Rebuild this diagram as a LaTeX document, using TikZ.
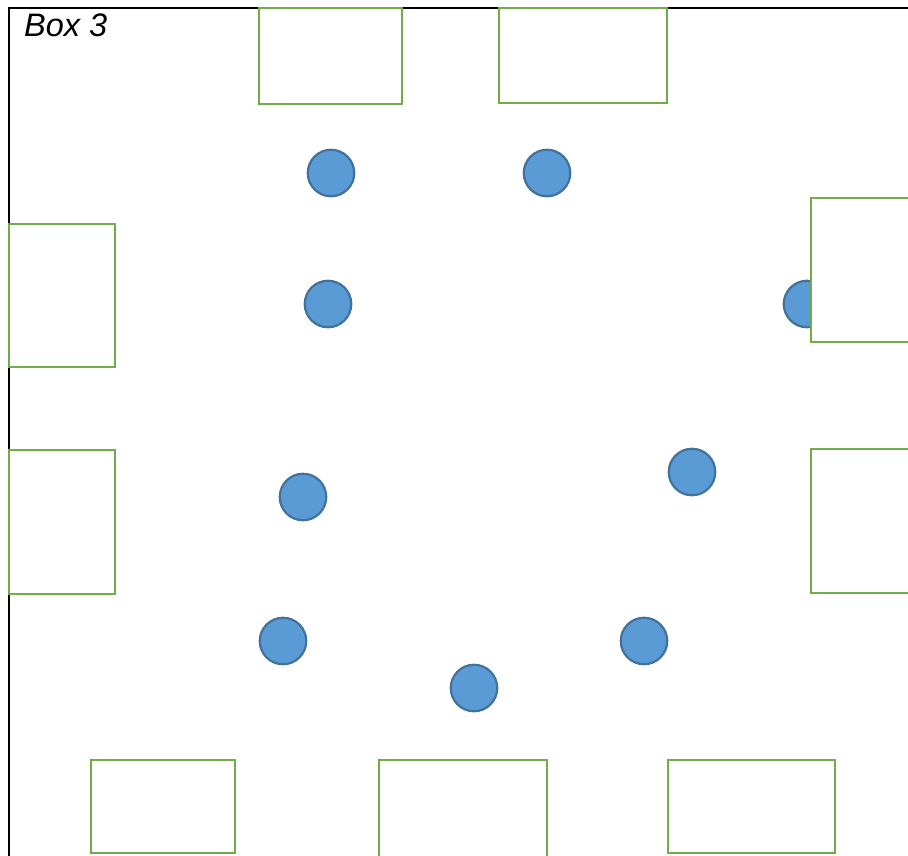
\documentclass[tikz,border=0pt]{standalone}
\usepackage{fontspec}
\setmainfont{Liberation Sans}
\usepackage{xcolor}
\usepackage{tikz}
\usetikzlibrary{positioning}

\definecolor{boxgreen}{HTML}{70AD47}
\definecolor{dotfill}{HTML}{5B9BD5}
\definecolor{dotline}{HTML}{41719C}

\begin{document}
\begin{tikzpicture}[
    x=1pt, y=-1pt,
    seat/.style={circle, draw=dotline, fill=dotfill, line width=2.2pt, minimum size=46.5pt, inner sep=0pt},
    table/.style={rectangle, draw=boxgreen, fill=white, line width=2.6pt, inner sep=0pt},
    frame/.style={black, line width=2.2pt},
]
\clip (0,0) rectangle (908,855);

% --- Frame ---
\coordinate (fbl) at (9,860);
\coordinate (ftl) at (9,8);
\coordinate (ftr) at (912,8);
\draw[frame] (fbl) -- (ftl) -- (ftr);
\node[anchor=north west, font=\itshape\fontsize{32.5}{32.5}\selectfont, inner sep=0pt] (title) at (24,14) {Box 3};

% --- Seats ---
\foreach \n/\px/\py in {s1/331/173, s2/547/173, s3/328/304, s4/807/304, s5/303/497,
                        s6/692/472, s7/283/641, s8/644/641, s9/474/688} {
    \node[seat] (\n) at (\px,\py) {};
}

% --- Tables ---
\foreach \n/\xa/\ya/\xb/\yb in {t1/259/8/402/104, t2/499/8/667/103,
                                t3/9/224/115/367, t4/9/450/115/594,
                                t5/811/198/940/342, t6/811/449/940/593,
                                t7/91/760/235/853, t8/379/760/547/880, t9/668/760/835/853} {
    \node[table, minimum width=\xb-\xa, minimum height=\yb-\ya] (\n) at ({(\xa+\xb)/2},{(\ya+\yb)/2}) {};
}

\end{tikzpicture}
\end{document}
